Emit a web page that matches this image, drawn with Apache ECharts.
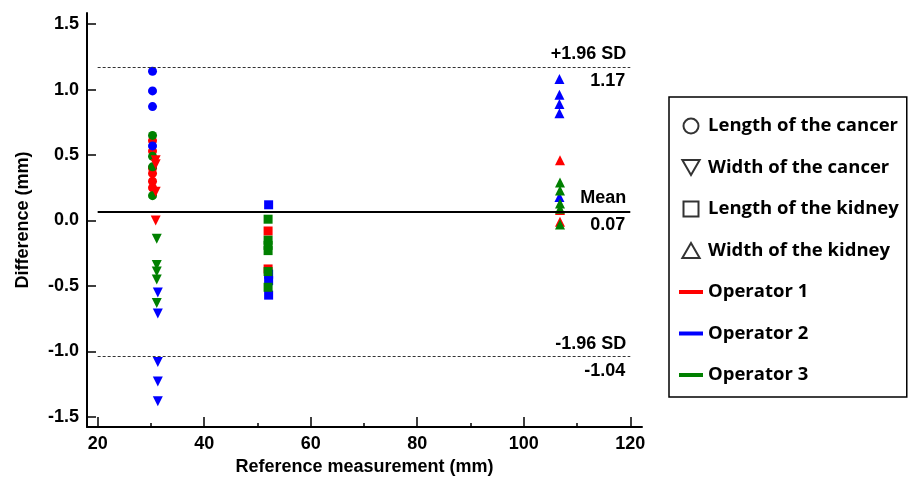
<!DOCTYPE html>
<html>
<head>
<meta charset="utf-8">
<style>
html,body{margin:0;padding:0;background:#fff;}
#chart{width:909px;height:481px;}
</style>
<script src="https://cdn.jsdelivr.net/npm/echarts@6/dist/echarts.min.js"></script>
</head>
<body>
<div id="chart"></div>
<script>
// ---- data ----
const operatorNames = ['Operator 1', 'Operator 2', 'Operator 3'];
const operatorColors = ['#ff0000', '#0000ff', '#008000'];
const shapeNames = ['Length of the cancer', 'Width of the cancer', 'Length of the kidney', 'Width of the kidney'];

// reference measurement (x) for each shape group, per operator
const refLenCancer = [30.3, 30.3, 30.3];
const refWidCancer = [30.9, 31.3, 31.1];
const refLenKidney = [52.0, 52.1, 52.0];
const refWidKidney = [106.8, 106.7, 106.8];

// differences (y)
const lenCancerOp1 = [0.61, 0.53, 0.40, 0.36, 0.30, 0.25];
const lenCancerOp2 = [1.14, 0.99, 0.87, 0.57];
const lenCancerOp3 = [0.65, 0.49, 0.41, 0.19];
const widCancerOp1 = [0.46, 0.43, 0.22, 0.00];
const widCancerOp2 = [-0.55, -0.71, -1.08, -1.23, -1.38];
const widCancerOp3 = [-0.14, -0.34, -0.39, -0.45, -0.63];
const lenKidneyOp1 = [-0.08, -0.37];
const lenKidneyOp2 = [0.12, -0.41, -0.46, -0.57];
const lenKidneyOp3 = [0.01, -0.15, -0.19, -0.23, -0.39, -0.51];
const widKidneyOp1 = [0.46, 0.08, -0.01];
const widKidneyOp2 = [1.08, 0.96, 0.89, 0.82, 0.18];
const widKidneyOp3 = [0.29, 0.23, 0.13, 0.09, -0.03];

// agreement lines
const refLineNames = ['+1.96 SD', 'Mean', '-1.96 SD'];
const refLineValues = [1.17, 0.07, -1.04];
const refLineX = [20, 120];

// ticks
const xMajorTicks = [20, 40, 60, 80, 100, 120];
const xMinorTicks = [30, 50, 70, 90, 110];
const yTicks = [-1.5, -1.0, -0.5, 0.0, 0.5, 1.0, 1.5];

// ---- chart ----
const FONT = 'Liberation Sans';
const downTri = 'path://M0,0L10,0L5,8.66Z';
const upTri = 'path://M5,0L10,8.66L0,8.66Z';
const square = 'path://M0,0H10V10H0Z';
const lineIcon = 'path://M0,0H24V4H0Z';

const groups = [
  {name: shapeNames[0], symbol: 'circle', size: 9, x: refLenCancer, ys: [lenCancerOp1, lenCancerOp2, lenCancerOp3]},
  {name: shapeNames[1], symbol: downTri, size: 10, x: refWidCancer, ys: [widCancerOp1, widCancerOp2, widCancerOp3]},
  {name: shapeNames[2], symbol: square, size: 9, x: refLenKidney, ys: [lenKidneyOp1, lenKidneyOp2, lenKidneyOp3]},
  {name: shapeNames[3], symbol: upTri, size: 10, x: refWidKidney, ys: [widKidneyOp1, widKidneyOp2, widKidneyOp3]}
];

const series = [];
groups.forEach(g => {
  g.ys.forEach((arr, oi) => {
    series.push({
      type: 'scatter',
      name: g.name + ' / ' + operatorNames[oi],
      symbol: g.symbol,
      symbolSize: g.size,
      itemStyle: {color: operatorColors[oi], opacity: 1},
      data: arr.map(v => [g.x[oi], v]),
      z: 3
    });
  });
});

// reference lines
const mlData = [];
refLineValues.forEach((v, i) => {
  const isMean = i === 1;
  const ls = isMean ? {color: '#000', width: 2, type: 'solid'} : {color: '#333', width: 1, type: [3, 2]};
  mlData.push([
    {coord: [refLineX[0], v], lineStyle: ls, label: {show: true, position: 'insideEndTop', formatter: refLineNames[i], distance: 4}},
    {coord: [refLineX[1], v]}
  ]);
  mlData.push([
    {coord: [refLineX[0], v], lineStyle: {color: 'rgba(0,0,0,0)', width: 0}, label: {show: true, position: 'insideEndBottom', formatter: v.toFixed(2), distance: 5}},
    {coord: [refLineX[1], v]}
  ]);
});
series.push({
  type: 'line',
  name: 'refLines',
  data: [],
  markLine: {
    silent: true,
    symbol: 'none',
    animation: false,
    label: {color: '#000', fontFamily: FONT, fontWeight: 'bold', fontSize: 18, padding: 0},
    emphasis: {disabled: true},
    data: mlData
  },
  z: 2
});

// legend dummies
const legendData = [];
groups.forEach(g => {
  series.push({
    type: 'scatter', name: g.name, data: [], symbol: g.symbol, symbolSize: 10,
    itemStyle: {color: '#fff', borderColor: '#000', borderWidth: 1.5}
  });
  legendData.push({name: g.name, icon: g.symbol});
});
operatorNames.forEach((n, oi) => {
  series.push({
    type: 'line', name: n, data: [], symbol: 'none',
    lineStyle: {color: operatorColors[oi], width: 4},
    itemStyle: {color: operatorColors[oi]}
  });
  legendData.push({name: n, icon: lineIcon, itemStyle: {color: operatorColors[oi], borderWidth: 0}});
});

const axisText = {color: '#000', fontFamily: FONT, fontWeight: 'bold', fontSize: 18};
const GRID_H = 481 - 13 - 53;

const option = {
  animation: false,
  backgroundColor: '#fff',
  grid: {left: 87, right: 267, top: 13, bottom: 53, containLabel: false},
  xAxis: [{
    type: 'value', min: 18, max: 122.2, position: 'bottom',
    name: 'Reference measurement (mm)', nameLocation: 'middle', nameGap: 30,
    nameTextStyle: axisText,
    axisLine: {show: true, onZero: false, lineStyle: {color: '#000', width: 2}},
    axisTick: {show: true, inside: true, length: 10, customValues: xMajorTicks, lineStyle: {color: '#000', width: 1.5}},
    axisLabel: Object.assign({customValues: xMajorTicks, margin: 8}, axisText),
    splitLine: {show: false}
  }, {
    // minor ticks: a top-positioned axis shifted down onto the bottom edge
    type: 'value', min: 18, max: 122.2, position: 'top', offset: -GRID_H,
    axisLine: {show: false, onZero: false},
    axisTick: {show: true, inside: false, length: 5, customValues: xMinorTicks, lineStyle: {color: '#000', width: 1.5}},
    axisLabel: {show: false, customValues: xMinorTicks},
    splitLine: {show: false}
  }],
  yAxis: {
    type: 'value', min: -1.578, max: 1.585,
    name: 'Difference (mm)', nameLocation: 'middle', nameGap: 55,
    nameTextStyle: axisText,
    axisLine: {show: true, onZero: false, lineStyle: {color: '#000', width: 2}},
    axisTick: {show: true, inside: true, length: 9, customValues: yTicks, lineStyle: {color: '#000', width: 1.5}},
    axisLabel: Object.assign({customValues: yTicks, margin: 8, formatter: v => v.toFixed(1)}, axisText),
    splitLine: {show: false}
  },
  legend: {
    show: true,
    data: legendData,
    orient: 'vertical',
    left: 669, top: 97,
    padding: [19, 8, 12, 10],
    itemWidth: 24, itemHeight: 15, itemGap: 21.5,
    borderColor: '#000', borderWidth: 1.5, borderRadius: 0,
    backgroundColor: '#fff',
    selectedMode: false,
    textStyle: {color: '#000', fontFamily: 'Open Sans', fontWeight: 'bold', fontSize: 18.5, lineHeight: 20}
  },
  series: series
};

const chart = echarts.init(document.getElementById('chart'), null, {renderer: 'canvas'});
chart.setOption(option);
</script>
</body>
</html>
